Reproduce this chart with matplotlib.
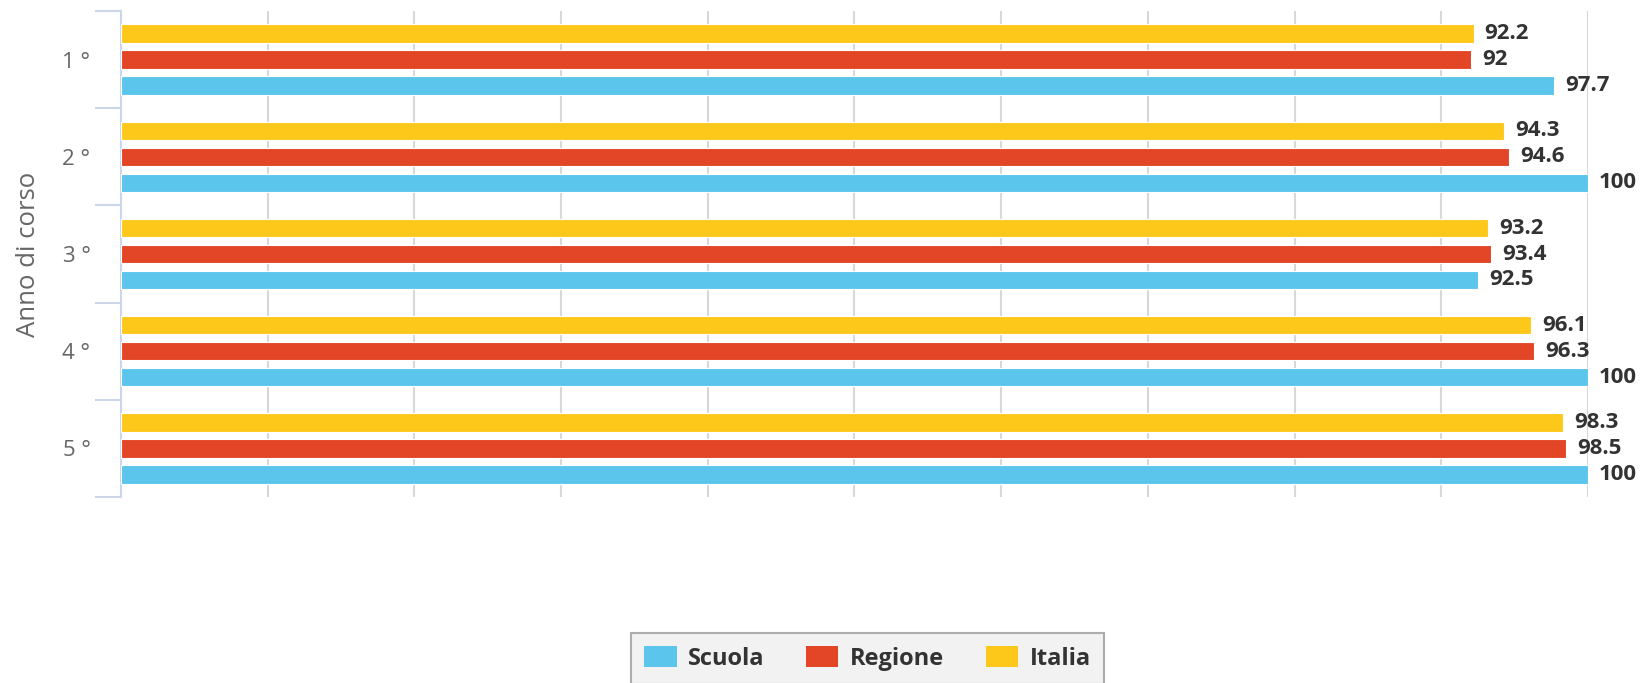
import matplotlib
matplotlib.use("Agg")
import matplotlib.pyplot as plt
import numpy as np
from matplotlib.patches import Patch

categories = ["1 °", "2 °", "3 °", "4 °", "5 °"]
series_names = ["Scuola", "Regione", "Italia"]
scuola = [97.7, 100, 92.5, 100, 100]
regione = [92, 94.6, 93.4, 96.3, 98.5]
italia = [92.2, 94.3, 93.2, 96.1, 98.3]
colors = ["#5bc5ec", "#e34527", "#fec81b"]

plt.rcParams['font.family'] = ['Open Sans', 'DejaVu Sans']

W, H = 1648, 683
fig = plt.figure(figsize=(W / 100, H / 100), dpi=100)
L, R, T, B = 121, 1588, 11, 497
ax = fig.add_axes([L / W, 1 - B / H, (R - L) / W, (B - T) / H])

y = np.arange(len(categories))
offsets = {"Italia": -0.267, "Regione": 0.0, "Scuola": 0.267}
data = {"Scuola": scuola, "Regione": regione, "Italia": italia}
h = 0.19
for name, col in zip(series_names, colors):
    vals = data[name]
    bars = ax.barh(y + offsets[name], vals, height=h, color=col,
                   edgecolor="white", linewidth=0.8, zorder=3)
    for b, v in zip(bars, vals):
        lab = f"{v:g}"
        ax.annotate(lab, (b.get_width(), b.get_y() + b.get_height() / 2),
                    xytext=(8, 0), textcoords="offset points",
                    ha="left", va="center", fontsize=16, fontweight="bold",
                    color="#333333", annotation_clip=False)

ax.set_xlim(0, 100)
ax.set_ylim(4.5, -0.5)
ax.set_xticks(np.arange(0, 101, 10))
ax.tick_params(axis="x", length=0, labelbottom=False)
ax.grid(axis="x", color="#d8d8d8", linewidth=1.5, zorder=0)
ax.set_axisbelow(True)

for s in ["top", "right", "bottom"]:
    ax.spines[s].set_visible(False)
ax.spines["left"].set_color("#ccd6eb")
ax.spines["left"].set_linewidth(1.5)

ax.set_yticks(np.arange(-0.5, 5, 1.0))
ax.set_yticklabels([])
ax.tick_params(axis="y", which="major", length=19, width=1.5, color="#ccd6eb")
ax.set_yticks(y, minor=True)
ax.set_yticklabels(categories, minor=True)
ax.tick_params(axis="y", which="minor", length=0, pad=22, labelsize=16,
               labelcolor="#666666")

fig.text(29 / W, 1 - 254 / H, "Anno di corso", rotation=90, ha="center",
         va="center", fontsize=18.5, color="#666666")

handles = [Patch(facecolor=c, edgecolor="none") for c in colors]
leg = fig.legend(handles, series_names, loc="upper center",
                 bbox_to_anchor=(867.5 / W, 1 - 633 / H), ncol=3,
                 frameon=True, fancybox=False, fontsize=17,
                 handlelength=1.36, handleheight=1.0, handletextpad=0.5,
                 columnspacing=1.75, borderpad=0.55, borderaxespad=0)
leg.get_frame().set_facecolor("#efefef")
leg.get_frame().set_edgecolor("#999999")
leg.get_frame().set_linewidth(1.5)
for t in leg.get_texts():
    t.set_fontweight("bold")
    t.set_color("#333333")

fig.savefig("out.png", dpi=100)
